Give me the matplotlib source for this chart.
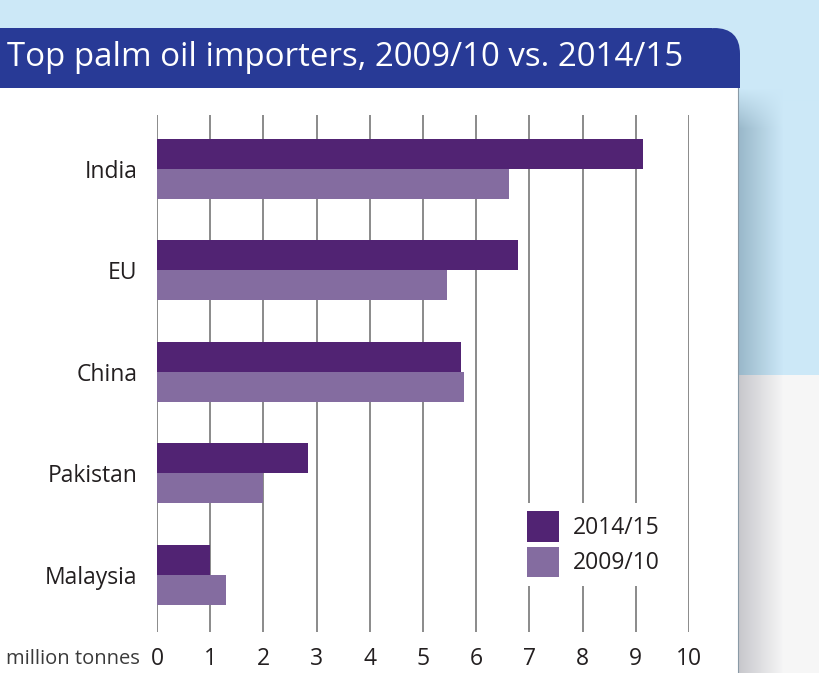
import numpy as np
import matplotlib.pyplot as plt
from matplotlib.patches import Rectangle, FancyBboxPatch

# data
paises = ["India", "EU", "China", "Pakistan", "Malaysia"]
v_2014 = [9.13, 6.79, 5.71, 2.84, 1.00]
v_2009 = [6.61, 5.45, 5.77, 1.99, 1.30]
ticks = list(range(0, 11))
titulo = "Top palm oil importers, 2009/10 vs. 2014/15"

cor_escura = "#512373"
cor_clara = "#846ca0"
cor_texto = "#231f20"

plt.rcParams['font.family'] = ['Open Sans', 'DejaVu Sans']

W, H = 819, 673
fig = plt.figure(figsize=(W / 100, H / 100), dpi=100)

# fundo (coordenadas em pixels)
bg = fig.add_axes([0, 0, 1, 1])
bg.set_xlim(0, W)
bg.set_ylim(H, 0)
bg.axis("off")

azul = np.array([0.80, 0.91, 0.97])
cinza = np.array([0.965, 0.965, 0.965])
img = np.zeros((H, W - 738, 3))
xs = np.arange(W - 738)
f = np.clip(xs / 45.0, 0, 1)[None, :, None]
sombra_azul = np.array([0.60, 0.72, 0.79])
sombra_cinza = np.array([0.78, 0.78, 0.80])
topo = sombra_azul * (1 - f) + azul * f
baixo = sombra_cinza * (1 - f) + cinza * f
img[:375] = topo[0]
img[375:] = baixo[0]
# topo da sombra esmaece
fy = np.clip((np.arange(375) - 88) / 40.0, 0, 1)[:, None, None]
img[:375] = azul * (1 - fy) + img[:375] * fy
fig.patch.set_facecolor(azul)
bg.imshow(img, extent=(738, W, H, 0), aspect="auto", zorder=0)

bg.add_patch(Rectangle((0, 88), 738, H - 88, facecolor="white", edgecolor="none", zorder=1))
bg.plot([738, 738], [88, H], color="#8a9aa6", lw=0.8, zorder=2)

cor_cab = "#283a96"
bg.add_patch(Rectangle((0, 28), 712, 60, facecolor=cor_cab, edgecolor="none", zorder=2))
bg.add_patch(FancyBboxPatch((690, 28), 50, 60, boxstyle="round,pad=0,rounding_size=26",
                            facecolor=cor_cab, edgecolor="none", zorder=2))
bg.add_patch(Rectangle((690, 60), 50, 28, facecolor=cor_cab, edgecolor="none", zorder=2))
bg.text(7, 57, titulo, color="white", fontsize=23.8, va="center", ha="left", zorder=3)

# grafico
x0, x1 = 157, 689
y_top, y_bot = 115, 632
ax = fig.add_axes([x0 / W, 1 - y_bot / H, (x1 - x0) / W, (y_bot - y_top) / H])
ax.patch.set_alpha(0)
passo = 101.5
ax.set_xlim(0, 10)
ax.set_ylim((y_bot - 169) / passo, (y_top - 169) / passo)
for s in ax.spines.values():
    s.set_visible(False)

ax.vlines(ticks, *ax.get_ylim(), color="#6b6b6b", lw=1.1, zorder=0)

pos = np.arange(len(paises))
h = 30 / passo
b1 = ax.barh(pos - h / 2, v_2014, height=h, color=cor_escura, label="2014/15", zorder=2)
b2 = ax.barh(pos + h / 2, v_2009, height=h, color=cor_clara, label="2009/10", zorder=2)

ax.set_yticks(pos)
ax.set_yticklabels(paises, fontsize=16.5, color=cor_texto)
ax.tick_params(axis="y", length=0, pad=14)
ax.set_xticks(ticks)
ax.set_xticklabels([str(t) for t in ticks], fontsize=16.5, color=cor_texto)
ax.tick_params(axis="x", length=0, pad=11)

bg.text(140, 659, "million tonnes", fontsize=14.5, color="#3a3a3a", ha="right", va="center", zorder=3)

leg = ax.legend(loc="upper left", bbox_to_anchor=(519 / W, 1 - 503 / H), bbox_transform=fig.transFigure,
                fontsize=16.5, frameon=True, fancybox=False, framealpha=1, edgecolor="none",
                handlelength=1.38, handleheight=1.7, labelspacing=0.2, handletextpad=0.6,
                borderpad=0.35, borderaxespad=0)
for t in leg.get_texts():
    t.set_color(cor_texto)
leg.set_zorder(5)

fig.savefig("out.png", dpi=100)
